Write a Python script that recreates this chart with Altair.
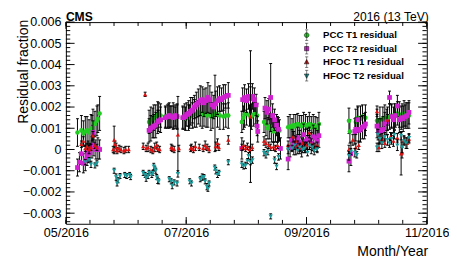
import altair as alt
import pandas as pd

# ---------------- data (day = days since 2016-05-01, residual and error in units of 1e-3)
SERIES = ["PCC T1 residual", "PCC T2 residual", "HFOC T1 residual", "HFOC T2 residual"]
COLORS = ["#22cc22", "#d020d0", "#dd1111", "#1a9c9c"]
SHAPES = ["circle", "square", "triangle-up", "triangle-down"]
SIZES = [22, 24, 20, 20]

pcc1_day = [5.9, 7.9, 8.9, 9.9, 10.8, 11.8, 12.8, 13.3, 13.8, 14.8, 15.8, 16.3, 17.2,
            42.4, 43.3, 44.3, 44.8, 45.8, 46.8, 47.3, 48.3,
            50.7, 52.2, 53.2, 54.7, 55.7, 56.7,
            59.6, 61.0, 62.5, 63.1, 64.5, 65.5, 66.5, 67.5, 68.5, 69.5, 70.4, 71.5, 72.4, 73.9, 74.9, 76.0, 77.3, 78.5, 80.3, 81.5, 82.8,
            89.7, 90.5, 91.1, 92.1, 93.6, 94.6, 95.6, 96.6, 97.5,
            101.0, 102.0, 103.0, 103.9, 104.9, 105.9, 106.9, 107.9, 108.9,
            113.3, 114.3, 115.3, 116.2, 117.2, 118.2, 119.2, 120.2, 121.2, 122.2, 123.2, 124.1, 125.1, 126.1, 127.1, 128.1, 129.0,
            144.3, 144.8, 147.8, 148.8, 150.2, 151.2, 152.7,
            158.6, 160.1, 161.6, 162.6, 164.0, 165.0, 166.0, 167.5, 169.0, 170.0, 171.4, 172.4, 173.4, 174.9]
pcc1_val = [0.8, 0.9, 0.75, 0.85, 0.9, 0.8, 0.95, 1.0, 1.25, 1.2, 1.35, 1.45, 1.7,
            1.3, 1.4, 1.45, 1.5, 1.55, 1.65, 1.7, 1.6,
            1.55, 1.6, 1.55, 1.6, 1.5, 1.55,
            1.5, 1.45, 1.5, 1.55, 1.6, 1.7, 1.65, 1.75, 1.7, 1.65, 1.7, 1.6, 1.65, 1.55, 1.6, 1.7, 1.65, 1.6, 1.55, 1.6, 1.6,
            1.3, 1.5, 1.65, 1.7, 1.6, 1.55, 1.65, 1.7, 1.6,
            1.3, 1.2, 1.0, 1.1, 0.9, 0.85, 0.9, 0.95, 0.9,
            1.05, 1.1, 1.0, 1.15, 1.1, 1.2, 1.15, 1.1, 1.2, 1.15, 1.1, 1.2, 1.05, 1.15, 1.1, 1.0, 1.2,
            1.35, 0.85, 1.3, 1.5, 1.45, 1.55, 1.5,
            1.35, 1.4, 1.45, 1.5, 1.45, 1.55, 1.6, 1.55, 1.7, 1.65, 1.6, 1.7, 1.65, 1.6]
pcc1_err = [0.65, 0.7, 0.6, 0.7, 0.65, 0.6, 0.7, 0.6, 0.65, 0.6, 0.7, 0.65, 0.8,
            0.55, 0.6, 0.5, 0.6, 0.55, 0.6, 0.5, 0.55,
            0.5, 0.55, 0.5, 0.6, 0.5, 0.55,
            0.5, 0.55, 0.6, 0.55, 0.6, 0.65, 0.6, 0.55, 0.6, 0.65, 0.6, 0.55, 0.6, 0.65, 0.6, 1.8, 0.6, 0.65, 0.6, 0.55, 0.6,
            0.5, 0.55, 0.6, 0.55, 0.5, 0.6, 0.55, 0.5, 0.55,
            0.5, 0.55, 0.5, 0.6, 0.55, 0.5, 0.55, 0.6, 0.5,
            0.5, 0.55, 0.45, 0.5, 0.55, 0.5, 0.45, 0.5, 0.55, 0.5, 0.45, 0.55, 0.5, 0.5, 0.45, 0.5, 0.55,
            0.6, 0.55, 0.6, 0.55, 0.6, 0.55, 0.6,
            0.55, 0.6, 0.55, 0.6, 0.55, 0.6, 0.55, 0.6, 0.55, 0.6, 0.55, 0.6, 0.55, 0.6]

pcc2_day = [5.9, 6.9, 7.9, 8.9, 9.9, 10.8, 11.3, 12.3, 13.3, 13.8, 14.3, 15.3, 16.3, 17.2,
            42.4, 43.3, 44.3, 44.8, 45.8, 46.8, 47.3, 48.3,
            50.7, 51.7, 52.7, 53.7, 54.7, 55.7, 56.7,
            59.6, 60.6, 61.6, 62.6, 63.6, 64.5, 65.5, 66.5, 67.5, 68.5, 69.5, 70.4, 71.4, 72.4, 73.4, 74.4, 75.4, 76.4, 77.3, 78.3, 79.3, 80.3, 81.3, 82.8,
            89.7, 90.1, 91.1, 92.1, 93.1, 94.1, 95.1, 96.1, 97.0, 97.5, 97.8,
            101.5, 102.5, 103.4, 104.4, 105.4, 106.4, 107.4, 108.4, 109.4,
            113.3, 114.3, 115.3, 116.2, 117.2, 118.2, 119.2, 120.2, 121.2, 122.2, 123.2, 124.1, 125.1, 126.1, 127.1, 128.1, 129.0,
            144.3, 145.3, 147.3, 147.8, 148.8, 149.3, 150.2, 151.2, 152.2, 152.7,
            158.6, 159.6, 160.6, 161.6, 162.6, 163.6, 165.0, 166.0, 167.0, 168.0, 169.0, 170.0, 171.0, 172.0, 173.0, 174.0, 174.9]
pcc2_val = [-0.85, -0.6, -0.2, -0.65, -0.5, -0.3, -0.1, -0.15, 0.1, 0.8, 0.2, 0.0, 0.05, 0.0,
            0.9, 1.0, 1.05, 1.1, 1.15, 1.3, 1.35, 1.4,
            1.5, 1.55, 1.6, 1.55, 1.5, 1.6, 1.55,
            1.5, 1.55, 1.65, 1.7, 1.8, 1.85, 2.0, 2.1, 2.2, 2.3, 2.35, 2.2, 2.3, 2.45, 2.35, 2.1, 2.0, 2.15, 2.3, 2.4, 2.35, 2.45, 2.5, 2.55,
            0.05, 2.35, 2.45, 2.3, 2.5, 2.4, 2.5, 2.35, 2.1, 1.1, 0.85,
            1.95, 1.75, 1.9, 2.45, 1.6, 1.4, 1.15, 0.95, 0.05,
            -0.45, 0.1, 0.45, 0.3, 0.2, 0.55, 0.35, 0.1, 0.7, 0.4, 0.5, 0.45, 0.3, 0.6, 0.55, 0.4, 0.65,
            -0.55, -0.2, 0.85, 0.95, 1.4, 0.9, 0.95, 1.05, 1.1, 1.2,
            1.1, 0.85, 0.9, 0.95, 1.2, 1.3, 2.45, 1.55, 1.4, 1.6, 2.05, 1.4, 1.5, 1.45, 1.55, 1.6, 1.75]
pcc2_err = [0.4, 0.45, 0.5, 0.45, 0.5, 0.45, 0.5, 0.45, 0.5, 0.55, 0.5, 0.45, 0.5, 0.45,
            0.55, 0.6, 0.5, 0.55, 0.6, 0.55, 0.5, 0.6,
            0.5, 0.55, 0.6, 0.5, 0.55, 0.5, 0.6,
            0.55, 0.6, 0.55, 0.6, 0.65, 0.6, 0.55, 0.6, 0.65, 0.7, 0.6, 0.65, 0.6, 0.7, 0.65, 0.6, 0.55, 0.6, 0.65, 0.6, 0.55, 0.6, 0.55, 0.6,
            0.5, 0.55, 0.6, 0.55, 0.6, 0.55, 0.6, 0.55, 0.5, 0.45, 0.5,
            0.5, 0.55, 0.5, 1.6, 0.55, 0.5, 0.5, 0.55, 0.5,
            0.5, 0.45, 0.5, 0.55, 0.45, 0.5, 0.55, 0.45, 0.5, 0.55, 0.5, 0.45, 0.5, 0.55, 0.45, 0.5, 0.55,
            0.5, 0.55, 0.6, 0.55, 0.6, 0.55, 0.6, 0.55, 0.6, 0.55,
            0.55, 0.6, 0.55, 0.6, 0.55, 0.6, 0.3, 0.55, 0.6, 0.55, 0.5, 0.6, 0.55, 0.6, 0.55, 0.6, 0.55]

hf1_day = [7.9, 8.9, 9.9, 10.8, 11.8, 12.8, 13.8, 14.8, 15.8,
           24.1, 24.6, 25.1, 25.6, 26.1, 27.1, 28.1, 29.6, 30.5, 32.0,
           40.4,
           39.4, 40.9, 41.9, 43.3, 44.3, 45.3, 46.3, 46.8, 47.8,
           53.7, 54.2, 55.2, 57.1, 57.6,
           63.6, 64.0, 65.0, 66.0, 68.0, 70.0, 71.0, 72.0, 73.0, 76.4, 77.3, 78.0, 82.8,
           89.7, 90.6, 91.6, 92.6, 93.6, 94.1, 95.0,
           101.0, 102.0, 103.4, 104.4, 105.9, 106.9, 107.9,
           113.3, 115.8, 117.2, 118.2, 119.2, 120.7, 121.7, 122.7, 124.1, 125.1, 126.6, 128.1,
           144.3, 146.3, 147.8, 149.3,
           158.6, 159.6, 161.1, 162.6, 164.0, 165.5, 167.0, 169.0, 170.9, 171.4, 172.4, 173.9, 174.9]
hf1_val = [0.25, 0.4, 0.05, 0.15, 0.0, 0.1, 0.65, 0.2, 0.1,
           0.0, 0.45, 0.25, 0.1, -0.05, 0.05, 0.0, -0.05, 0.0, 0.0,
           2.6,
           0.15, 0.05, 0.1, 0.0, -0.05, 0.1, 0.2, 0.05, 0.0,
           0.1, 0.05, 0.0, 0.7, 0.05,
           0.05, 0.1, 0.0, 0.15, 0.1, 0.05, 0.2, 0.1, 0.0, 0.15, 0.3, 0.1, 0.45,
           0.1, 0.2, 0.05, 0.15, 0.0, 1.55, 0.1,
           0.4, 0.3, 0.2, 0.1, 0.15, 0.05, 0.2,
           0.2, 0.6, 0.4, 0.2, 0.1, 0.3, 0.15, 0.2, 0.8, 0.3, 0.1, 0.2,
           0.0, 0.45, 0.1, 0.2,
           1.8, 0.1, 0.5, 0.3, 1.4, 0.6, 0.4, 0.55, -0.2, -0.15, 0.45, 0.3, 0.5]
hf1_err = [0.15, 0.2, 0.15, 0.15, 0.2, 0.15, 0.2, 0.15, 0.15,
           0.15, 0.65, 0.15, 0.2, 0.15, 0.15, 0.15, 0.15, 0.15, 0.15,
           0.1,
           0.15, 0.15, 0.2, 0.15, 0.15, 0.2, 0.15, 0.15, 0.15,
           0.15, 0.15, 0.15, 1.8, 0.15,
           0.15, 0.15, 0.15, 0.2, 0.15, 0.15, 0.2, 0.15, 0.15, 0.2, 0.2, 0.15, 0.2,
           0.15, 0.2, 0.15, 0.15, 0.15, 3.1, 0.15,
           0.2, 0.2, 0.15, 0.15, 0.2, 0.15, 0.15,
           0.2, 0.25, 0.2, 0.2, 0.15, 0.2, 0.2, 0.15, 0.25, 0.2, 0.2, 0.15,
           0.2, 0.25, 0.2, 0.2,
           0.25, 0.2, 0.25, 0.2, 0.25, 0.2, 0.25, 0.2, 1.0, 0.25, 0.2, 0.25, 0.2]

hf2_day = [9.9, 11.8, 12.8, 14.8, 15.8,
           24.6, 25.6, 26.1, 26.6, 27.6, 30.0, 31.0, 32.5, 33.0,
           39.4, 40.4, 40.9, 41.9, 42.4, 43.8, 44.3, 44.8, 45.3, 45.8, 46.3, 46.8, 47.3,
           52.7, 53.7, 54.2, 55.2, 56.7, 57.1,
           63.1, 64.0, 68.5, 69.5, 70.4, 71.0, 71.9, 72.4, 73.0, 75.9, 76.4, 77.3, 78.0, 82.8,
           89.7, 90.6, 91.6, 92.6, 93.1, 94.1, 95.1,
           101.0, 102.0, 103.0, 104.4, 106.4, 107.4, 108.4,
           113.3, 115.3, 116.7, 118.2, 119.2, 120.7, 121.7, 123.2, 124.1, 125.6, 126.6, 128.1,
           144.3, 145.3, 147.3, 148.3,
           158.6, 159.1, 160.1, 161.1, 162.6, 164.0, 165.0, 166.0, 167.5, 169.0, 170.9, 171.4, 172.4, 173.4, 174.9]
hf2_val = [-0.6, -0.5, -0.7, -0.75, -0.65,
           -1.0, -1.3, -1.6, -1.45, -1.25, -1.2, -1.25, -1.2, -1.3,
           -1.1, -1.2, -1.35, -1.25, -1.1, -1.2, -1.1, -0.8, -0.9, -1.0, -1.3, -1.45, -1.5,
           -1.4, -1.5, -1.7, -1.55, -1.6, -1.15,
           -1.5, -1.6, -1.4, -1.3, -1.3, -1.5, -1.75, -1.85, -1.6, -0.85, -1.0, -1.2, -1.1, -0.6,
           -0.7, -0.8, -0.75, -0.55, -0.3, -0.6, -0.5,
           -0.15, -0.25, -0.1, -3.15, -0.5, -0.8, -0.35,
           0.0, 0.05, 0.2, -0.05, 0.1, 0.0, 0.05, -0.15, 0.2, 0.1, -0.05, 0.0,
           -0.3, -0.1, -0.15, -0.25,
           0.1, 0.7, 0.5, 0.3, 0.6, 0.45, 0.3, 0.5, 0.7, 0.2, 0.65, 0.1, 0.4, 0.3, 0.55]
hf2_err = [0.12, 0.12, 0.15, 0.12, 0.12,
           0.12, 0.15, 0.12, 0.12, 0.12, 0.12, 0.12, 0.12, 0.12,
           0.12, 0.12, 0.15, 0.12, 0.12, 0.12, 0.12, 0.15, 0.12, 0.12, 0.12, 0.15, 0.12,
           0.12, 0.12, 0.15, 0.12, 0.12, 0.15,
           0.12, 0.12, 0.12, 0.15, 0.12, 0.12, 0.15, 0.12, 0.12, 0.12, 0.15, 0.12, 0.12, 0.12,
           0.15, 0.12, 0.15, 0.12, 0.15, 0.12, 0.15,
           0.15, 0.15, 0.15, 0.12, 0.15, 0.15, 0.15,
           0.2, 0.15, 0.2, 0.15, 0.2, 0.15, 0.2, 0.15, 0.2, 0.15, 0.2, 0.15,
           0.2, 0.15, 0.2, 0.15,
           0.2, 0.25, 0.2, 0.25, 0.2, 0.25, 0.2, 0.25, 0.2, 0.25, 0.2, 0.25, 0.2, 0.25, 0.2]

# axis ticks / labels
y_major = [-0.003, -0.002, -0.001, 0.0, 0.001, 0.002, 0.003, 0.004, 0.005, 0.006]
y_minor = [round(-0.0034 + 0.0002 * i, 4) for i in range(48)]
x_labels = ["05/2016", "07/2016", "09/2016", "11/2016"]
x_major = [0.0, 61.333, 122.667, 184.0]
x_minor = [round(184.0 / 15 * i, 3) for i in range(16)]

# ---------------- chart
W, H = 374, 209
FONT = "Liberation Sans"
xs = alt.Scale(domain=[0, 184], nice=False, zero=False)
ys = alt.Scale(domain=[-0.0035, 0.006], nice=False, zero=False)

xaxis = alt.Axis(values=x_major, ticks=False, tickSize=0, domain=False, grid=False,
                 labelExpr="['05/2016','07/2016','09/2016','11/2016'][round(datum.value/61.333)]",
                 labelFont=FONT, labelFontSize=13, labelPadding=3, labelColor="black",
                 labelFlush=False, labelOverlap=False,
                 title="Month/Year", titleFont=FONT, titleFontSize=14.5, titleFontWeight="normal",
                 titleColor="black", titleAlign="right", titleAnchor="end", titleX=W + 1, titleY=33,
                 titleBaseline="alphabetic")
yaxis = alt.Axis(values=y_major, ticks=False, tickSize=0, domain=False, grid=False,
                 labelExpr="datum.value == 0 ? '0' : replace(format(datum.value, '.3f'), '-', '\u2212')",
                 labelFont=FONT, labelFontSize=13, labelPadding=5, labelColor="black",
                 labelFlush=False, labelOverlap=False,
                 title="Residual fraction", titleFont=FONT, titleFontSize=14.5, titleFontWeight="normal",
                 titleColor="black", titleAngle=270, titleAlign="right", titleAnchor="end",
                 titleX=-40, titleY=-3, titleBaseline="alphabetic")


def X(field):
    return alt.X(field, type="quantitative", scale=xs, axis=xaxis)


def Y(field):
    return alt.Y(field, type="quantitative", scale=ys, axis=yaxis)


layers = []
ydf_major = pd.DataFrame({"v": y_major})
ydf_minor = pd.DataFrame({"v": y_minor})
xdf_major = pd.DataFrame({"v": x_major})
xdf_minor = pd.DataFrame({"v": x_minor})
for df, L in [(ydf_major, 9), (ydf_minor, 4.5)]:
    layers.append(alt.Chart(df).mark_rule(color="black", strokeWidth=1).encode(
        y=Y("v"), x=alt.value(0), x2=alt.value(L)))
    layers.append(alt.Chart(df).mark_rule(color="black", strokeWidth=1).encode(
        y=Y("v"), x=alt.value(W - L), x2=alt.value(W)))
for df, L in [(xdf_major, 7), (xdf_minor, 4)]:
    layers.append(alt.Chart(df).mark_rule(color="black", strokeWidth=1).encode(
        x=X("v"), y=alt.value(H - L), y2=alt.value(H)))
    layers.append(alt.Chart(df).mark_rule(color="black", strokeWidth=1).encode(
        x=X("v"), y=alt.value(0), y2=alt.value(L)))

data = [(pcc1_day, pcc1_val, pcc1_err), (pcc2_day, pcc2_val, pcc2_err),
        (hf1_day, hf1_val, hf1_err), (hf2_day, hf2_val, hf2_err)]
for i, (d, v, e) in enumerate(data):
    df = pd.DataFrame({"day": d, "val": v, "err": e})
    df["res"] = df["val"] * 1e-3
    df["lo"] = (df["val"] - df["err"]) * 1e-3
    df["hi"] = (df["val"] + df["err"]) * 1e-3
    base = alt.Chart(df)
    layers.append(base.mark_rule(color="black", strokeWidth=1).encode(x=X("day"), y=Y("lo"), y2="hi"))
    layers.append(base.mark_tick(color="black", orient="horizontal", size=3, thickness=1, opacity=1).encode(
        x=X("day"), y=Y("lo")))
    layers.append(base.mark_tick(color="black", orient="horizontal", size=3, thickness=1, opacity=1).encode(
        x=X("day"), y=Y("hi")))
    layers.append(base.mark_point(filled=True, shape=SHAPES[i], color=COLORS[i], size=SIZES[i],
                                  opacity=1, strokeWidth=0).encode(x=X("day"), y=Y("res")))

# legend (error-bar + marker symbols)
PATHS = [
    "M0,-1V1M-0.3,-1H0.3M-0.3,1H0.3M-0.44,0A0.44,0.44 0 1,0 0.44,0A0.44,0.44 0 1,0 -0.44,0Z",
    "M0,-1V1M-0.3,-1H0.3M-0.3,1H0.3M-0.4,-0.4H0.4V0.4H-0.4Z",
    "M0,-1V1M-0.3,-1H0.3M-0.3,1H0.3M0,-0.5L0.44,0.32H-0.44Z",
    "M0,-1V1M-0.3,-1H0.3M-0.3,1H0.3M0,0.5L0.44,-0.32H-0.44Z",
]
leg = alt.Legend(title=None, orient="none", direction="vertical", legendX=243.5, legendY=7.5,
                 labelFont=FONT, labelFontWeight="bold", labelFontSize=10, labelColor="black",
                 symbolSize=121, symbolStrokeWidth=0.5,
                 rowPadding=0, labelOffset=11, padding=0, symbolOpacity=1)
leg_df = pd.DataFrame({"series": SERIES})
layers.append(alt.Chart(leg_df).transform_filter("false").mark_point(
    filled=True, opacity=1, strokeWidth=0.5).encode(
    fill=alt.Fill("series:N", scale=alt.Scale(domain=SERIES, range=COLORS), legend=leg),
    stroke=alt.Stroke("series:N", scale=alt.Scale(domain=SERIES, range=["black"] * 4), legend=leg),
    shape=alt.Shape("series:N", scale=alt.Scale(domain=SERIES, range=PATHS), legend=leg),
))

# header texts
layers.append(alt.Chart(pd.DataFrame({"t": ["CMS"]})).mark_text(
    align="left", baseline="alphabetic", font=FONT, fontWeight="bold", fontSize=12.5, color="black").encode(
    text="t:N", x=alt.value(0), y=alt.value(-1)))
layers.append(alt.Chart(pd.DataFrame({"t": ["2016 (13 TeV)"]})).mark_text(
    align="right", baseline="alphabetic", font=FONT, fontSize=12.5, color="black").encode(
    text="t:N", x=alt.value(W + 2), y=alt.value(-1)))

chart = alt.layer(*layers).properties(
    width=W, height=H,
    autosize=alt.AutoSizeParams(type="none"),
    padding={"left": 60, "top": 10, "right": 23, "bottom": 36},
    background="white",
).configure_view(stroke="black", strokeWidth=1)

chart.save("out.html", embed_options={"renderer": "svg", "actions": False})
